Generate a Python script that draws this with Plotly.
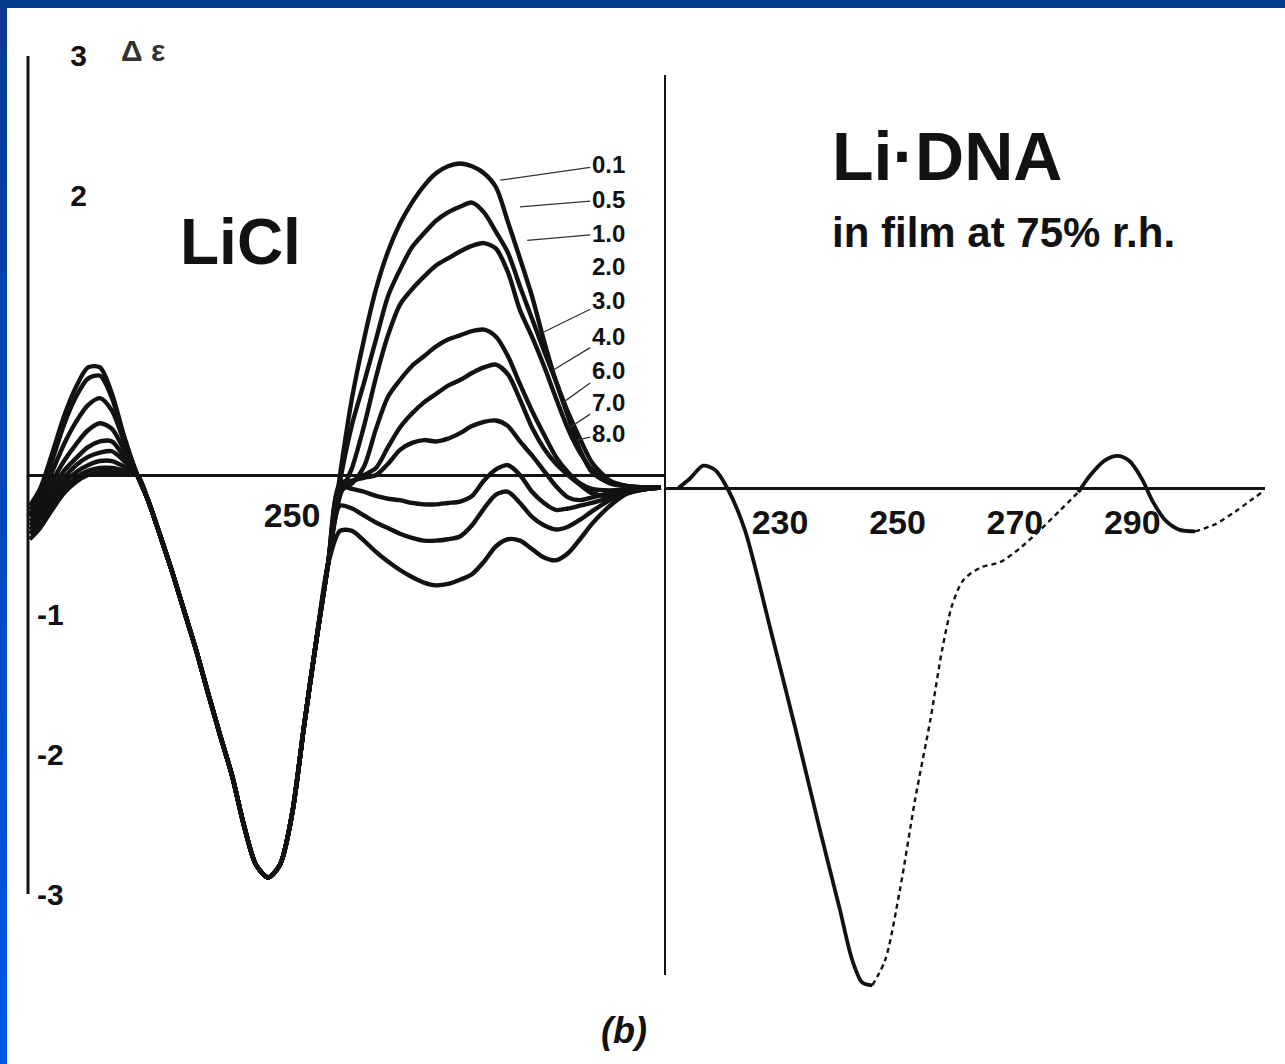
import plotly.graph_objects as go

# ---------------- data ----------------
# LiCl concentrations (M) labelling the nine CD curves of the left panel
conc_labels = ["0.1", "0.5", "1.0", "2.0", "3.0", "4.0", "6.0", "7.0", "8.0"]

# short-wavelength positive band (nm) -- one row of values per curve
pre_lam = [206.3, 208, 210, 212, 214, 216, 218, 220, 222]
pre_vals = [
    [-0.22, -0.10, 0.15, 0.42, 0.63, 0.77, 0.77, 0.58, 0.28],
    [-0.25, -0.14, 0.10, 0.36, 0.56, 0.69, 0.71, 0.55, 0.27],
    [-0.28, -0.18, 0.02, 0.22, 0.38, 0.50, 0.55, 0.46, 0.24],
    [-0.30, -0.22, -0.05, 0.10, 0.22, 0.32, 0.37, 0.33, 0.18],
    [-0.33, -0.26, -0.10, 0.03, 0.12, 0.20, 0.24, 0.24, 0.13],
    [-0.36, -0.29, -0.15, -0.02, 0.07, 0.13, 0.16, 0.17, 0.10],
    [-0.39, -0.32, -0.19, -0.06, 0.02, 0.07, 0.10, 0.10, 0.06],
    [-0.42, -0.35, -0.22, -0.10, -0.02, 0.03, 0.05, 0.05, 0.03],
    [-0.46, -0.38, -0.25, -0.13, -0.05, 0.00, 0.02, 0.02, 0.01],
]

# common negative band at ~245 nm (all curves coincide)
trough_lam = [224.2, 226, 228, 230, 232, 234, 236, 238, 240, 242, 244, 246, 248, 250, 252, 254, 256]
trough_val = [0.0, -0.18, -0.43, -0.69, -0.97, -1.25, -1.56, -1.86, -2.15, -2.51, -2.79, -2.88,
              -2.79, -2.43, -1.80, -1.20, -0.64]

# long-wavelength band (~275 nm) -- one row per curve
post_lam = [258, 260, 262, 264, 266, 268, 270, 272, 274, 276, 278, 280, 282, 284, 286, 288,
            290, 292, 294, 296, 298, 300, 303, 306, 309, 311.5]
post_vals = [
    [0.00, 0.55, 0.97, 1.33, 1.60, 1.80, 1.95, 2.07, 2.16, 2.21, 2.23, 2.21, 2.16, 2.06, 1.81, 1.55,
     1.28, 0.96, 0.67, 0.42, 0.18, 0.02, -0.06, -0.08, -0.09, -0.09],
    [-0.05, 0.36, 0.66, 0.97, 1.28, 1.47, 1.63, 1.73, 1.82, 1.88, 1.92, 1.95, 1.88, 1.74, 1.59, 1.35,
     1.12, 0.89, 0.67, 0.45, 0.26, 0.09, -0.04, -0.08, -0.09, -0.09],
    [-0.15, 0.05, 0.35, 0.70, 1.00, 1.22, 1.33, 1.42, 1.50, 1.55, 1.60, 1.64, 1.66, 1.62, 1.45, 1.18,
     0.99, 0.78, 0.55, 0.33, 0.16, 0.04, -0.05, -0.08, -0.09, -0.09],
    [-0.12, -0.06, 0.06, 0.33, 0.56, 0.68, 0.78, 0.85, 0.92, 0.97, 1.00, 1.03, 1.04, 0.99, 0.85, 0.65,
     0.46, 0.29, 0.13, 0.02, -0.06, -0.10, -0.11, -0.10, -0.09, -0.09],
    [-0.10, -0.05, 0.00, 0.05, 0.20, 0.34, 0.44, 0.52, 0.58, 0.64, 0.68, 0.73, 0.77, 0.79, 0.72, 0.54,
     0.34, 0.19, 0.08, 0.00, -0.07, -0.13, -0.15, -0.12, -0.10, -0.09],
    [-0.06, -0.04, -0.02, 0.00, 0.08, 0.18, 0.23, 0.25, 0.24, 0.26, 0.30, 0.35, 0.38, 0.39, 0.35, 0.24,
     0.14, 0.03, -0.08, -0.16, -0.18, -0.16, -0.13, -0.11, -0.10, -0.09],
    [-0.08, -0.10, -0.12, -0.15, -0.17, -0.18, -0.20, -0.21, -0.21, -0.20, -0.19, -0.15, -0.04, 0.04,
     0.07, 0.00, -0.12, -0.20, -0.25, -0.24, -0.22, -0.20, -0.16, -0.12, -0.10, -0.09],
    [-0.22, -0.24, -0.29, -0.34, -0.38, -0.42, -0.45, -0.47, -0.47, -0.46, -0.44, -0.36, -0.24, -0.14,
     -0.12, -0.20, -0.30, -0.36, -0.39, -0.37, -0.32, -0.26, -0.18, -0.13, -0.10, -0.09],
    [-0.40, -0.40, -0.47, -0.55, -0.62, -0.68, -0.73, -0.77, -0.79, -0.78, -0.75, -0.71, -0.62, -0.51,
     -0.46, -0.47, -0.53, -0.59, -0.61, -0.56, -0.46, -0.35, -0.22, -0.13, -0.10, -0.09],
]

# where the leader lines touch the curves (nm, value) and label heights (value)
leader_lam = [284.7, 288.0, 289.2, None, 291.8, 293.5, 295.2, 296.3, 297.5]
leader_val = [2.11, 1.92, 1.68, None, 1.02, 0.75, 0.52, 0.34, 0.25]
label_val = [2.22, 1.97, 1.73, 1.49, 1.25, 0.99, 0.75, 0.52, 0.30]
label_lam = 302.7

# right panel: Li-DNA in film at 75% r.h.
right_a_lam = [212.7, 214.7, 216.9, 218.9, 221.0, 224.0, 228.3, 232.6, 236.8, 240.2, 242.3, 244.0, 245.7]
right_a_val = [0.0, 0.07, 0.16, 0.13, 0.0, -0.30, -1.00, -1.72, -2.45, -3.02, -3.38, -3.54, -3.56]
right_b_lam = [245.7, 247.9, 250.4, 253.0, 255.6, 257.6, 259.3, 261.2, 264.1, 267.5, 270.9, 274.3,
               277.7, 280.8]
right_b_val = [-3.56, -3.38, -2.88, -2.23, -1.66, -1.16, -0.84, -0.66, -0.57, -0.53, -0.43, -0.30,
               -0.16, -0.03]
right_c_lam = [280.8, 282.8, 285.4, 287.6, 289.6, 291.7, 293.4, 295.6, 298.1, 300.7]
right_c_val = [-0.03, 0.09, 0.20, 0.23, 0.19, 0.06, -0.09, -0.23, -0.30, -0.31]
right_d_lam = [300.7, 304.1, 307.5, 310.1, 312.1]
right_d_val = [-0.31, -0.26, -0.17, -0.09, -0.03]

left_ticks = [250]
right_ticks = [230, 250, 270, 290]
y_ticks = [3, 2, -1, -2, -3]
y_ticktext = ["\u2007\u20073", "\u2007\u20072", "-1", "-2", "-3"]

# ---------------- figure ----------------
W, H = 1285, 1064
ML, MR, MT, MB = 28, 20, 10, 64
PW, PH = W - ML - MR, H - MT - MB


def px(x):
    return (x - ML) / PW


def py(y):
    return (H - MB - y) / PH


FONT = "Liberation Sans, Arial, sans-serif"
INK = "#121212"

fig = go.Figure()

for i, lab in enumerate(conc_labels):
    xs = pre_lam + trough_lam + post_lam
    ys = pre_vals[i] + trough_val + post_vals[i]
    fig.add_trace(go.Scatter(x=xs, y=ys, mode="lines", name=lab,
                             line=dict(color=INK, width=4.4, shape="spline", smoothing=0.8),
                             xaxis="x", yaxis="y", hoverinfo="skip"))

for lam, val, dash, wd in [(right_a_lam, right_a_val, "solid", 3.8),
                           (right_b_lam, right_b_val, "5px,4px", 2.4),
                           (right_c_lam, right_c_val, "solid", 3.8),
                           (right_d_lam, right_d_val, "5px,4px", 2.4)]:
    fig.add_trace(go.Scatter(x=lam, y=val, mode="lines",
                             line=dict(color=INK, width=wd, dash=dash, shape="spline", smoothing=0.8),
                             xaxis="x2", yaxis="y2", hoverinfo="skip"))

# pixel -> value scale: zero at y=475 (left) / 488 (right), 139.7 px per unit
Y0L, Y0R, K = 475, 488, 139.7
div = px(665)
axis_common = dict(showgrid=False, zeroline=False, showline=False, ticks="",
                   tickfont=dict(family=FONT, size=34, color=INK, weight="bold"),
                   anchor="free")
fig.update_layout(
    width=W, height=H, margin=dict(l=ML, r=MR, t=MT, b=MB),
    paper_bgcolor="white", plot_bgcolor="white", showlegend=False,
    xaxis=dict(domain=[0, div], range=[206.0, 312.17],
               tickvals=left_ticks, ticktext=[str(t) for t in left_ticks],
               position=py(492), **axis_common),
    xaxis2=dict(domain=[div, 1], range=[210.4, 312.6],
                tickvals=right_ticks, ticktext=[str(t) for t in right_ticks],
                position=py(499), **axis_common),
    yaxis=dict(domain=[0, 1], range=[(Y0L - (H - MB)) / K, (Y0L - MT) / K], anchor="x",
               tickvals=y_ticks, ticktext=y_ticktext, ticklabelposition="inside",
               ticklabelstandoff=6,
               tickfont=dict(family=FONT, size=30, color=INK, weight="bold"),
               showgrid=False, showline=False, ticks="",
               zeroline=True, zerolinecolor=INK, zerolinewidth=3),
    yaxis2=dict(domain=[0, 1], range=[(Y0R - (H - MB)) / K, (Y0R - MT) / K], anchor="x2",
                showticklabels=False, showgrid=False, showline=False, ticks="",
                zeroline=True, zerolinecolor=INK, zerolinewidth=3),
)

shapes = []
# left axis line (-3 .. 3)
shapes.append(dict(type="line", xref="paper", yref="y", x0=0, x1=0, y0=-3, y1=3,
                   line=dict(color=INK, width=3)))
# divider between panels
shapes.append(dict(type="line", xref="paper", yref="paper", x0=div, x1=div, y0=py(975), y1=py(75),
                   line=dict(color=INK, width=2)))
# slide frame: top bar and left gradient bar
shapes.append(dict(type="rect", xref="paper", yref="paper", x0=px(0), x1=px(W), y0=py(8), y1=py(0),
                   fillcolor="#023a8e", line=dict(width=0), layer="above"))
nseg = 24
for k in range(nseg):
    t = k / (nseg - 1)
    r = int(10 + (0 - 10) * t)
    g = int(58 + (88 - 58) * t)
    b = int(150 + (232 - 150) * t)
    y0 = 8 + (H - 8) * k / nseg
    y1 = 8 + (H - 8) * (k + 1) / nseg
    shapes.append(dict(type="rect", xref="paper", yref="paper", x0=px(0), x1=px(7),
                       y0=py(y1 + 0.5), y1=py(y0), fillcolor=f"rgb({r},{g},{b})",
                       line=dict(width=0), layer="above"))
fig.update_layout(shapes=shapes)

ann = []
for i, lab in enumerate(conc_labels):
    if leader_lam[i] is None:
        ann.append(dict(x=label_lam, y=label_val[i], xref="x", yref="y", text=lab, showarrow=False,
                        xanchor="center", yanchor="middle",
                        font=dict(family=FONT, size=24, color=INK, weight="bold")))
    else:
        ann.append(dict(x=leader_lam[i], y=leader_val[i], xref="x", yref="y",
                        ax=label_lam, ay=label_val[i], axref="x", ayref="y",
                        text=lab, showarrow=True, arrowhead=0, arrowwidth=1.3, arrowcolor="#333",
                        xanchor="center", yanchor="middle",
                        font=dict(family=FONT, size=24, color=INK, weight="bold")))


def label(x, y, text, size, color=INK, xanchor="center"):
    return dict(x=px(x), y=py(y), xref="paper", yref="paper", text=text, showarrow=False,
                xanchor=xanchor, yanchor="middle",
                font=dict(family=FONT, size=size, color=color, weight="bold"))


ann += [
    label(143, 50, "\u0394 \u03b5", 30, "#333"),
    label(241, 242, "LiCl", 64),
    label(830, 156, "Li\u00b7DNA", 68, xanchor="left"),
    label(830, 232, "in film at 75% r.h.", 42, xanchor="left"),
    label(624, 1030, "<i>(b)</i>", 36),
]
fig.update_layout(annotations=ann)

fig.write_html("out.html")
